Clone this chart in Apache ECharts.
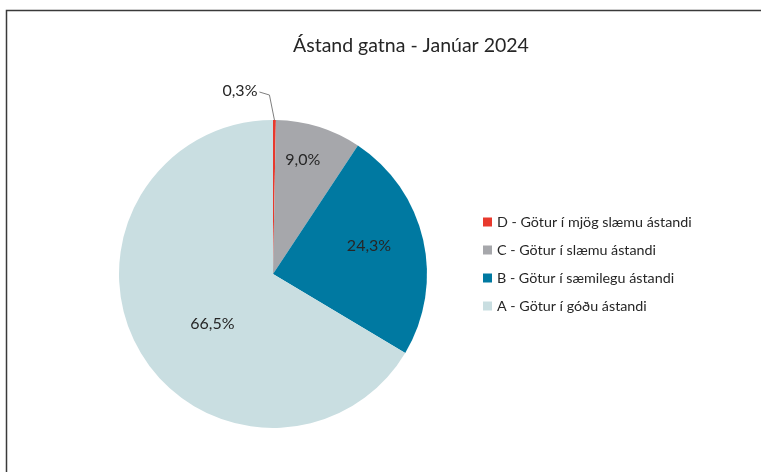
<!DOCTYPE html>
<html>
<head>
<meta charset="utf-8">
<script src="https://cdn.jsdelivr.net/npm/echarts@6/dist/echarts.min.js"></script>
<style>
html,body{margin:0;padding:0;background:#fff;}
#c{width:761px;height:472px;}
</style>
</head>
<body>
<div id="c"></div>
<script>
var titleText = 'Ástand gatna - Janúar 2024';
var categories = [
  'D - Götur í mjög slæmu ástandi',
  'C - Götur í slæmu ástandi',
  'B - Götur í sæmilegu ástandi',
  'A - Götur í góðu ástandi'
];
var values = [0.3, 9.0, 24.3, 66.5];
var colors = ['#E8392D', '#A6A7AB', '#0079A1', '#C9DEE1'];

var FONT = 'Lato';
var labelOffsets = [null, [6, -38], [18, -10], [9, 10]];

var data = categories.map(function (c, i) {
  var item = { name: c, value: values[i], itemStyle: { color: colors[i] } };
  if (i === 0) {
    item.label = { position: 'outside' };
    item.labelLine = { show: true, length: 20, length2: 10, lineStyle: { color: '#7f7f7f', width: 1 } };
  } else {
    item.label = { position: 'inside', offset: labelOffsets[i] };
    item.labelLine = { show: false };
  }
  return item;
});

var chart = echarts.init(document.getElementById('c'), null, { renderer: 'canvas' });
chart.setOption({
  backgroundColor: '#ffffff',
  animation: false,
  graphic: [{
    type: 'rect',
    shape: { x: 6.5, y: 10.5, width: 800, height: 500 },
    style: { fill: 'none', stroke: '#3a3a3a', lineWidth: 1.5 },
    silent: true
  }],
  title: {
    text: titleText,
    left: 288,
    top: 31,
    textStyle: { fontFamily: FONT, fontSize: 19.5, fontWeight: 'normal', color: '#262626' }
  },
  legend: {
    orient: 'vertical',
    left: 478,
    top: 210,
    itemWidth: 9,
    itemHeight: 9,
    itemGap: 14,
    icon: 'rect',
    textStyle: { fontFamily: FONT, fontSize: 14.3, color: '#262626', padding: [0, 0, 0, 0] },
    data: categories
  },
  series: [{
    type: 'pie',
    center: [273, 274],
    radius: [0, 154],
    startAngle: 90,
    clockwise: true,
    avoidLabelOverlap: false,
    label: {
      formatter: function (p) { return p.value.toFixed(1).replace('.', ',') + '%'; },
      fontFamily: FONT,
      fontSize: 16,
      color: '#262626'
    },
    labelLayout: function (params) {
      if (params.dataIndex !== 0 || !params.labelLinePoints) return {};
      var p0 = params.labelLinePoints[0];
      var p1 = [p0[0] - 5, p0[1] - 25];
      var p2 = [p1[0] - 10, p1[1] - 3];
      return {
        x: p2[0] - 2,
        y: p2[1] - 1,
        align: 'right',
        verticalAlign: 'middle',
        labelLinePoints: [p0, p1, p2]
      };
    },
    itemStyle: { borderWidth: 0 },
    emphasis: { disabled: true },
    data: data
  }]
});
</script>
</body>
</html>
